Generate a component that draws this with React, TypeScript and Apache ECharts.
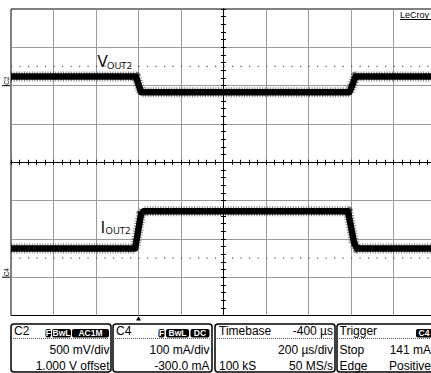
import { useEffect, useRef } from "react";
import * as echarts from "echarts";

// ---- Horizontal scale: 200 µs/div, 10 divisions (trigger at t = 0) ----
const xMinUs = -600;
const xMaxUs = 1400;
const usPerDiv = 200;

// ---- Vertical scale: 8 divisions ----
const yMinDiv = -4;
const yMaxDiv = 4;

// ---- Channel 2: V_OUT2 (AC coupled) ----
const c2MvPerDiv = 500;
const c2OffsetMv = 1000;
const voutTimeUs = [-600, -12, 12, 993, 1022, 1400];
const voutMv = [120, 120, -85, -85, 120, 120];

// ---- Channel 4: I_OUT2 ----
const c4MaPerDiv = 100;
const c4OffsetMa = -300;
const ioutTimeUs = [-600, -16, 12, 24, 986, 1014, 1028, 1400];
const ioutMa = [75, 75, 165, 172, 172, 90, 75, 75];

// dotted reference levels (divisions)
const refLevelsDiv = [2.5, -2.5];

// ---- Info panel texts ----
const c2Lines = ["500 mV/div", "1.000 V offset"];
const c2Badges = ["F", "BwL", "AC1M"];
const c4Lines = ["100 mA/div", "-300.0 mA"];
const c4Badges = ["F", "BwL", "DC"];
const timebaseRows = [
  ["Timebase", "-400 µs"],
  ["", "200 µs/div"],
  ["100 kS", "50 MS/s"],
];
const triggerRows = [
  ["Trigger", ""],
  ["Stop", "141 mA"],
  ["Edge", "Positive"],
];

const FONT = "Liberation Sans, Arial, sans-serif";
const LABEL_FONT = "Open Sans, Liberation Sans, sans-serif";
const GRID_COLOR = "#9a9a9a";

const GRID_RECT = { left: 11, top: 9, width: 425, height: 306.5 };

function txt(x: number, y: number, s: string, align: string, size = 12, extra: any = {}) {
  return {
    type: "text",
    x,
    y,
    z: 20,
    silent: true,
    style: {
      text: s,
      fill: "#000",
      fontSize: size,
      fontFamily: FONT,
      textAlign: align,
      textVerticalAlign: "middle",
      ...extra,
    },
  };
}

function badge(x: number, w: number, label: string) {
  return [
    {
      type: "rect",
      z: 20,
      silent: true,
      shape: { x, y: 329, width: w, height: 8.5, r: 2 },
      style: { fill: "#000" },
    },
    txt(x + w / 2, 333.4, label, "center", 8.5, { fill: "#fff", fontWeight: "bold" }),
  ];
}

function box(x: number, w: number) {
  return [
    {
      type: "rect",
      z: 19,
      silent: true,
      shape: { x, y: 324, width: w, height: 48, r: 3 },
      style: { fill: "#fff", stroke: "#000", lineWidth: 1.5 },
    },
    {
      type: "line",
      z: 20,
      silent: true,
      shape: { x1: x + 2, y1: 338.5, x2: x + w - 2, y2: 338.5 },
      style: { stroke: "#555", lineWidth: 1, lineDash: [1, 1] },
    },
  ];
}

function panelElements() {
  const els: any[] = [];
  // C2
  els.push(...box(11, 100));
  els.push(txt(14, 331, "C2", "left"));
  const c2b = [
    [45.5, 5.5],
    [52, 19],
    [72, 37],
  ];
  c2Badges.forEach((b, i) => els.push(...badge(c2b[i][0], c2b[i][1], b)));
  els.push(txt(109.5, 349.5, c2Lines[0], "right"));
  els.push(txt(109.5, 365.5, c2Lines[1], "right"));
  // C4
  els.push(...box(113, 99));
  els.push(txt(116, 331, "C4", "left"));
  const c4b = [
    [158.5, 6],
    [166, 23],
    [190.5, 19],
  ];
  c4Badges.forEach((b, i) => els.push(...badge(c4b[i][0], c4b[i][1], b)));
  els.push(txt(209.5, 349.5, c4Lines[0], "right"));
  els.push(txt(209.5, 365.5, c4Lines[1], "right"));
  // Timebase
  els.push(...box(215, 120));
  const rowsY = [331, 349.5, 365.5];
  timebaseRows.forEach((r, i) => {
    if (r[0]) els.push(txt(219, rowsY[i], r[0], "left"));
    if (r[1]) els.push(txt(333, rowsY[i], r[1], "right"));
  });
  // Trigger
  els.push(...box(337, 110));
  triggerRows.forEach((r, i) => {
    if (r[0]) els.push(txt(339.5, rowsY[i], r[0], "left"));
    if (r[1]) els.push(txt(431, rowsY[i], r[1], "right"));
  });
  els.push(...badge(416, 16, "C4"));
  return els;
}

const voutDiv = voutMv.map((v) => (v + c2OffsetMv) / c2MvPerDiv);
const ioutDiv = ioutMa.map((v) => (v + c4OffsetMa) / c4MaPerDiv);

function traceSeries(times: number[], divs: number[]) {
  const data = times.map((t, i) => [t, divs[i]]);
  return [
    {
      // noisy fringe of the trace band
      type: "line",
      xAxisIndex: 0,
      yAxisIndex: 0,
      data,
      symbol: "none",
      silent: true,
      z: 3,
      lineStyle: { color: "#111", width: 10, join: "round", type: [1, 1.6], opacity: 0.55 },
    },
    {
      type: "line",
      xAxisIndex: 0,
      yAxisIndex: 0,
      data,
      symbol: "none",
      silent: true,
      z: 4,
      lineStyle: { color: "#000", width: 6.5, join: "round" },
    },
  ];
}

const centerXAxis = (position: string) => ({
  gridIndex: 1,
  type: "value",
  min: -5,
  max: 5,
  interval: 1,
  position,
  axisLine: { show: true, onZero: true, onZeroAxisIndex: 1, lineStyle: { color: "#000", width: 1 } },
  axisTick: { show: true, length: 2.5, lineStyle: { color: "#000", width: 1 } },
  minorTick: { show: true, splitNumber: 5, length: 2.5, lineStyle: { color: "#000", width: 1 } },
  axisLabel: { show: false },
  splitLine: { show: false },
});

const centerYAxis = (position: string) => ({
  gridIndex: 1,
  type: "value",
  min: -4,
  max: 4,
  interval: 1,
  position,
  axisLine: { show: true, onZero: true, onZeroAxisIndex: 1, lineStyle: { color: "#000", width: 1 } },
  axisTick: { show: true, length: 2.5, lineStyle: { color: "#000", width: 1 } },
  minorTick: { show: true, splitNumber: 5, length: 2.5, lineStyle: { color: "#000", width: 1 } },
  axisLabel: { show: false },
  splitLine: { show: false },
});

const option: any = {
  animation: false,
  backgroundColor: "#fff",
  textStyle: { fontFamily: FONT },
  grid: [
    {
      ...GRID_RECT,
      show: true,
      borderColor: "#000",
      borderWidth: 1,
      backgroundColor: "#fff",
      containLabel: false,
      outerBoundsMode: "none",
    },
    { ...GRID_RECT, show: false, containLabel: false, outerBoundsMode: "none" },
  ],
  xAxis: [
    {
      gridIndex: 0,
      type: "value",
      min: xMinUs,
      max: xMaxUs,
      interval: usPerDiv,
      axisLine: { show: false },
      axisTick: { show: false },
      axisLabel: { show: false },
      splitLine: { show: true, showMinLine: false, showMaxLine: false, lineStyle: { color: GRID_COLOR, width: 1 } },
    },
    centerXAxis("bottom"),
    centerXAxis("top"),
  ],
  yAxis: [
    {
      gridIndex: 0,
      type: "value",
      min: yMinDiv,
      max: yMaxDiv,
      interval: 1,
      axisLine: { show: false },
      axisTick: { show: false },
      axisLabel: { show: false },
      splitLine: { show: true, showMinLine: false, showMaxLine: false, lineStyle: { color: GRID_COLOR, width: 1 } },
    },
    centerYAxis("left"),
    centerYAxis("right"),
  ],
  series: [
    ...refLevelsDiv.map((lvl) => ({
      type: "line",
      xAxisIndex: 0,
      yAxisIndex: 0,
      data: [
        [xMinUs, lvl],
        [xMaxUs, lvl],
      ],
      symbol: "none",
      silent: true,
      z: 2,
      lineStyle: { color: "#555", width: 1.2, type: [1.2, 7.3] },
    })),
    ...traceSeries(voutTimeUs, voutDiv),
    ...traceSeries(ioutTimeUs, ioutDiv),
  ],
};

export default function App() {
  const ref = useRef<HTMLDivElement>(null);
  useEffect(() => {
    const chart = echarts.init(ref.current!, null, { renderer: "svg" });
    chart.setOption(option);

    const trig = chart.convertToPixel({ gridIndex: 0 }, [0, yMinDiv]) as number[];
    const c2Zero = chart.convertToPixel({ gridIndex: 0 }, [xMinUs, c2OffsetMv / c2MvPerDiv]) as number[];
    const c4Zero = chart.convertToPixel({ gridIndex: 0 }, [xMinUs, c4OffsetMa / c4MaPerDiv]) as number[];

    const markers: any[] = [
      // trigger position arrow
      {
        type: "polygon",
        z: 20,
        silent: true,
        shape: {
          points: [
            [trig[0] - 2.5, trig[1] + 5],
            [trig[0] + 2.5, trig[1] + 5],
            [trig[0], trig[1] + 0.8],
          ],
        },
        style: { fill: "#000" },
      },
      // channel zero markers
      {
        type: "line",
        z: 20,
        silent: true,
        shape: { x1: 2, y1: c2Zero[1], x2: 10, y2: c2Zero[1] },
        style: { stroke: "#000", lineWidth: 1 },
      },
      { ...txt(6.5, c2Zero[1] - 5, "C2", "center", 6.5), rotation: Math.PI / 2 },
      {
        type: "line",
        z: 20,
        silent: true,
        shape: { x1: 2, y1: c4Zero[1], x2: 10, y2: c4Zero[1] },
        style: { stroke: "#000", lineWidth: 1 },
      },
      { ...txt(6.5, c4Zero[1] - 5, "C4", "center", 6.5), rotation: Math.PI / 2 },
      // LeCroy logo text
      txt(400, 15, "LeCroy", "left", 9),
      {
        type: "line",
        z: 20,
        silent: true,
        shape: { x1: 400, y1: 19.5, x2: 440, y2: 19.5 },
        style: { stroke: "#000", lineWidth: 1 },
      },
      // trace labels
      txt(97.5, 60.3, "V", "left", 17, { fontFamily: LABEL_FONT }),
      txt(107, 65, "OUT2", "left", 9.5, { fontFamily: LABEL_FONT }),
      txt(100.5, 226.7, "I", "left", 17, { fontFamily: LABEL_FONT }),
      txt(105.5, 230.8, "OUT2", "left", 9.5, { fontFamily: LABEL_FONT }),
    ];

    chart.setOption({ graphic: [...panelElements(), ...markers] });
    return () => chart.dispose();
  }, []);
  return (
    <div
      ref={ref}
      style={{ position: "fixed", left: 0, top: 0, width: 431, height: 373 }}
    />
  );
}
